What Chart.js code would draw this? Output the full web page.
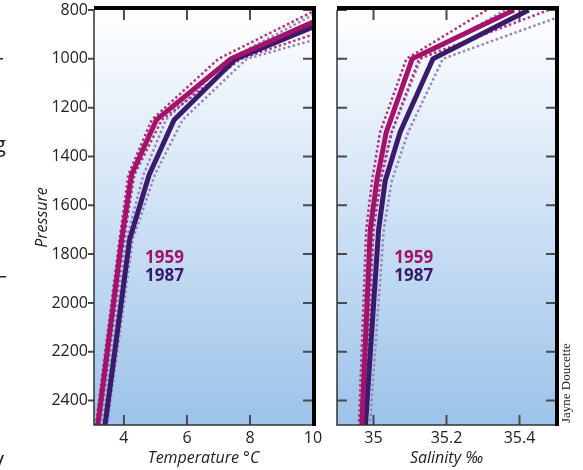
<!DOCTYPE html>
<html>
<head>
<meta charset="utf-8">
<script src="https://cdn.jsdelivr.net/npm/chart.js@4.4.1/dist/chart.umd.min.js"></script>
<style>
body { margin: 0; background: #fff; width: 583px; height: 470px; position: relative; overflow: hidden; }
canvas { position: absolute; top: 0; }
#tempChart { left: 0; }
#salChart { left: 320px; }
</style>
</head>
<body>
<canvas id="tempChart" width="330" height="470"></canvas>
<canvas id="salChart" width="263" height="470"></canvas>
<script>
// pressure levels the profiles were read at
var tempPressure = [800, 1000, 1250, 1475, 1740, 2500];
var temp1959   = [10.85, 7.39, 5.03, 4.24, 3.93, 3.17];
var temp1959Lo = [10.1, 7.0, 4.88, 4.14, 3.86, 3.11];
var temp1959Hi = [12.3, 7.71, 5.2, 4.33, 4.0, 3.23];
var temp1987   = [11.3, 7.55, 5.59, 4.8, 4.18, 3.40];
var temp1987Lo = [10.3, 7.35, 5.33, 4.62, 4.08, 3.33];
var temp1987Hi = [13.4, 7.9, 5.86, 4.98, 4.28, 3.47];

var salPressure = [800, 1000, 1300, 1500, 1700, 2500];
var sal1959   = [35.385, 35.106, 35.035, 35.009, 34.991, 34.968];
var sal1959Lo = [35.31, 35.09, 35.018, 34.996, 34.98, 34.96];
var sal1959Hi = [35.48, 35.125, 35.05, 35.02, 35.0, 34.975];
var sal1987   = [35.425, 35.163, 35.073, 35.032, 35.014, 34.978];
var sal1987Lo = [35.36, 35.13, 35.05, 35.015, 35.0, 34.968];
var sal1987Hi = [35.56, 35.19, 35.095, 35.05, 35.028, 34.99];

var pressureTicks = [800, 1000, 1200, 1400, 1600, 1800, 2000, 2200, 2400];
var tempTicks = [4, 6, 8, 10];
var salTicks = [35, 35.2, 35.4];
var years = ['1959', '1987'];

var magenta = '#a3136c';
var purple = '#3a1a6a';
var magentaDot = '#b2327f';
var purpleDot = '#9785c0';
var sans = '"Open Sans", sans-serif';

function points(xs, ps) {
  return xs.map(function(x, i) { return { x: x, y: ps[i] }; });
}

function profile(xs, ps, color, width, dash) {
  return {
    data: points(xs, ps),
    showLine: true,
    borderColor: color,
    borderWidth: width,
    borderDash: dash || [],
    pointRadius: 0,
    tension: 0,
    clip: 0
  };
}

var panelFrame = {
  id: 'panelFrame',
  beforeDraw: function(chart) {
    var a = chart.chartArea, ctx = chart.ctx;
    var g = ctx.createLinearGradient(0, a.top, 0, a.bottom);
    g.addColorStop(0, '#ffffff');
    g.addColorStop(1, '#9cc3ea');
    ctx.save();
    ctx.fillStyle = g;
    ctx.fillRect(a.left, a.top, a.right - a.left, a.bottom - a.top);
    ctx.restore();
  },
  beforeDatasetsDraw: function(chart, args, opts) {
    var a = chart.chartArea, ctx = chart.ctx;
    var xs = chart.scales.x, ys = chart.scales.y;
    ctx.save();
    ctx.strokeStyle = '#4a4a4a';
    ctx.lineWidth = 2;
    ctx.beginPath();
    pressureTicks.forEach(function(p) {
      var y = ys.getPixelForValue(p);
      if (opts.outerLeft) {
        ctx.moveTo(a.left - 6, y); ctx.lineTo(a.left, y);
      } else {
        ctx.moveTo(a.left, y); ctx.lineTo(a.left + 10, y);
      }
      ctx.moveTo(a.right - 10, y); ctx.lineTo(a.right, y);
    });
    opts.xTicks.forEach(function(v) {
      var x = xs.getPixelForValue(v);
      if (x > a.right - 3) return;
      ctx.moveTo(x, a.top); ctx.lineTo(x, a.top + 10);
      ctx.moveTo(x, a.bottom); ctx.lineTo(x, a.bottom - 10);
    });
    ctx.stroke();
    ctx.restore();
  },
  afterDraw: function(chart, args, opts) {
    var a = chart.chartArea, ctx = chart.ctx;
    var xs = chart.scales.x, ys = chart.scales.y;
    ctx.save();
    // thin frame left and bottom
    ctx.strokeStyle = '#333';
    ctx.lineWidth = 1.5;
    ctx.setLineDash([]);
    ctx.beginPath();
    ctx.moveTo(a.left, a.top);
    ctx.lineTo(a.left, a.bottom);
    ctx.lineTo(a.right, a.bottom);
    ctx.stroke();
    // heavy top and right edge
    ctx.strokeStyle = '#000';
    ctx.lineWidth = 4;
    ctx.beginPath();
    ctx.moveTo(a.left, a.top - 2);
    ctx.lineTo(a.right + 1, a.top - 2);
    ctx.lineTo(a.right + 1, a.bottom + 1);
    ctx.stroke();

    ctx.font = 'bold 17px ' + sans;
    ctx.textAlign = 'left';
    ctx.textBaseline = 'middle';
    var lx = xs.getPixelForValue(opts.labelX);
    ctx.fillStyle = magenta;
    ctx.fillText(years[0], lx, ys.getPixelForValue(opts.labelP[0]));
    ctx.fillStyle = purple;
    ctx.fillText(years[1], lx, ys.getPixelForValue(opts.labelP[1]));

    if (opts.credit) {
      ctx.fillStyle = '#222';
      ctx.font = '13px "Liberation Serif", serif';
      ctx.translate(a.right + 11, a.bottom);
      ctx.rotate(-Math.PI / 2);
      ctx.textAlign = 'left';
      ctx.fillText(opts.credit, 2, 0);
    }
    if (opts.edgeText) {
      ctx.fillStyle = '#222';
      ctx.font = '22px ' + sans;
      ctx.fillText('g', -6, 146);
      ctx.fillText('y', -7, 461);
      ctx.fillRect(0, 276, 6, 1.5);
      ctx.fillRect(0, 58, 3, 1.5);
    }
    ctx.restore();
  }
};

var tickFont = { family: sans, size: 16 };
var titleFont = { family: sans, size: 16, style: 'italic' };

function noPad(s) {
  s.paddingTop = 0; s.paddingBottom = 0; s.paddingLeft = 0; s.paddingRight = 0;
}

function xScale(min, max, ticks, title) {
  return {
    type: 'linear',
    min: min,
    max: max,
    afterBuildTicks: function(s) { s.ticks = ticks.map(function(v) { return { value: v }; }); },
    afterFit: function(s) { s.height = 45; noPad(s); },
    grid: { display: false, drawTicks: false },
    border: { display: false },
    ticks: {
      color: '#222', font: tickFont, padding: 4, maxRotation: 0, autoSkip: false,
      callback: function(v) { return String(v); }
    },
    title: { display: true, text: title, color: '#222', font: titleFont, padding: { top: 0, bottom: 2 } }
  };
}

new Chart(document.getElementById('tempChart'), {
  type: 'scatter',
  data: {
    datasets: [
      profile(temp1959, tempPressure, magenta, 5),
      profile(temp1987, tempPressure, purple, 5),
      profile(temp1959Lo, tempPressure, magentaDot, 2.5, [2.5, 2.5]),
      profile(temp1959Hi, tempPressure, magentaDot, 2.5, [2.5, 2.5]),
      profile(temp1987Lo, tempPressure, purpleDot, 2.5, [2.5, 2.5]),
      profile(temp1987Hi, tempPressure, purpleDot, 2.5, [2.5, 2.5])
    ]
  },
  options: {
    responsive: false,
    animation: false,
    devicePixelRatio: 1,
    layout: { padding: { top: 10, right: 17, left: 0, bottom: 0 } },
    scales: {
      x: xScale(3.05, 10, tempTicks, 'Temperature °C'),
      y: {
        type: 'linear',
        reverse: true,
        min: 800,
        max: 2500,
        afterBuildTicks: function(s) { s.ticks = pressureTicks.map(function(v) { return { value: v }; }); },
        afterFit: function(s) { s.width = 94; noPad(s); },
        grid: { display: false, drawTicks: false },
        border: { display: false },
        ticks: {
          color: '#222', font: tickFont, padding: 6, autoSkip: false,
          callback: function(v) { return String(v); }
        },
        title: { display: true, text: 'Pressure', color: '#222', font: titleFont, padding: { top: 33, bottom: 0 } }
      }
    },
    plugins: {
      legend: { display: false },
      tooltip: { enabled: false },
      panelFrame: { outerLeft: true, xTicks: tempTicks, labelX: 4.67, labelP: [1816, 1890], edgeText: true }
    }
  },
  plugins: [panelFrame]
});

new Chart(document.getElementById('salChart'), {
  type: 'scatter',
  data: {
    datasets: [
      profile(sal1959, salPressure, magenta, 5),
      profile(sal1987, salPressure, purple, 5),
      profile(sal1959Lo, salPressure, magentaDot, 2.5, [2.5, 2.5]),
      profile(sal1959Hi, salPressure, magentaDot, 2.5, [2.5, 2.5]),
      profile(sal1987Lo, salPressure, purpleDot, 2.5, [2.5, 2.5]),
      profile(sal1987Hi, salPressure, purpleDot, 2.5, [2.5, 2.5])
    ]
  },
  options: {
    responsive: false,
    animation: false,
    devicePixelRatio: 1,
    layout: { padding: { top: 10, right: 27, left: 17, bottom: 0 } },
    scales: {
      x: xScale(34.9, 35.5, salTicks, 'Salinity ‰'),
      y: { type: 'linear', reverse: true, min: 800, max: 2500, display: false }
    },
    plugins: {
      legend: { display: false },
      tooltip: { enabled: false },
      panelFrame: { outerLeft: false, xTicks: salTicks, labelX: 35.057, labelP: [1816, 1890], credit: 'Jayne Doucette' }
    }
  },
  plugins: [panelFrame]
});
</script>
</body>
</html>
